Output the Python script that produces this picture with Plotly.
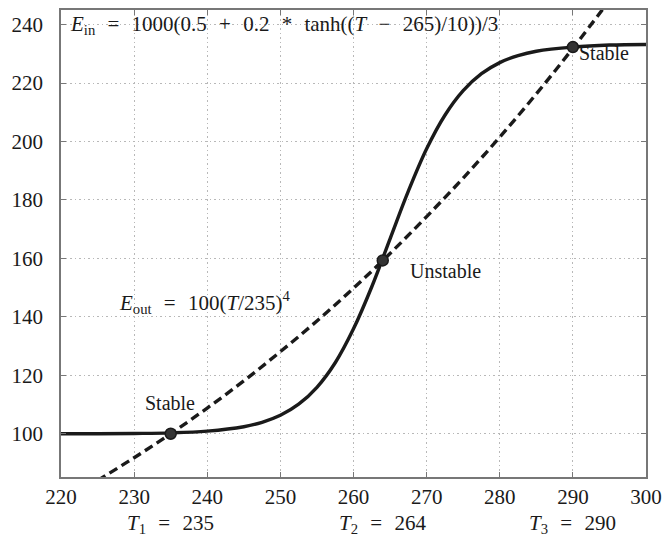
import plotly.graph_objects as go

# Incoming energy curve (solid)
t_in = [220, 225, 230, 235, 240, 245, 247.5, 250, 252.5, 255, 257.5, 260, 262.5, 265,
        267.5, 270, 272.5, 275, 277.5, 280, 282.5, 285, 290, 295, 300]
e_in = [100.0, 100.0, 100.1, 100.3, 100.9, 102.4, 103.9, 106.3, 110.1, 115.9, 124.3, 135.9, 150.3, 166.7,
        183.0, 197.5, 209.0, 217.4, 223.2, 227.0, 229.4, 230.9, 232.3, 233.0, 233.2]

# Outgoing energy curve (dashed)
t_out = [225, 230, 235, 240, 245, 250, 255, 260, 265, 270, 275, 280, 285, 290, 295]
e_out = [84.0, 91.8, 100.0, 108.8, 118.1, 128.1, 138.6, 149.8, 161.7, 174.3, 187.5, 201.5, 216.3, 231.9, 248.3]

# Equilibrium points
eq_t = [235, 264, 290]
eq_e = [100.0, 159.3, 232.3]
eq_names = ["Stable", "Unstable", "Stable"]
SP = "\u2002\u200a"
eq_labels = ["<i>T</i><sub>1</sub>" + SP + "=" + SP + "235",
             "<i>T</i><sub>2</sub>" + SP + "=" + SP + "264",
             "<i>T</i><sub>3</sub>" + SP + "=" + SP + "290"]

FONT = "'Liberation Serif', 'DejaVu Serif', serif"
INK = "#1a1a1a"

fig = go.Figure()
fig.add_trace(go.Scatter(x=t_in, y=e_in, mode="lines", line=dict(color=INK, width=3.4, shape="spline"),
                         showlegend=False))
fig.add_trace(go.Scatter(x=t_out, y=e_out, mode="lines", line=dict(color=INK, width=3.4, dash="9px,5px", shape="spline"),
                         showlegend=False))
fig.add_trace(go.Scatter(x=eq_t, y=eq_e, mode="markers", marker=dict(color="#333", size=11,
                         line=dict(color=INK, width=1.5)), showlegend=False))

axis_common = dict(showline=True, linecolor="#777", linewidth=1.5, mirror="ticks",
                   ticks="inside", ticklen=5, tickcolor="#777",
                   showgrid=True, gridcolor="#b8b8b8", griddash="1.5px,3px", gridwidth=1.2,
                   zeroline=False, ticklabeloverflow="allow",
                   tickfont=dict(family=FONT, size=21, color=INK))

fig.update_xaxes(range=[220, 300], tickvals=list(range(220, 301, 10)), ticklabelstandoff=0, **axis_common)
fig.update_yaxes(range=[85.2, 245], tickvals=list(range(100, 241, 20)), ticklabelstandoff=12, **axis_common)

ann = []
ann.append(dict(x=220.9, y=240, xref="x", yref="y", xanchor="left", yanchor="middle", showarrow=False,
                text="<i>E</i><sub>in</sub>" + SP + "=" + SP + "1000(0.5" + SP + "+" + SP + "0.2" + SP + "*" + SP
                     + "tanh((<i>T</i>" + SP + "−" + SP + "265)/10))/3",
                font=dict(family=FONT, size=21, color=INK)))
ann.append(dict(x=227.6, y=144.8, xref="x", yref="y", xanchor="left", yanchor="middle", showarrow=False,
                text="<i>E</i><sub>out</sub>" + SP + "=" + SP + "100(<i>T</i>/235)<sup>4</sup>",
                font=dict(family=FONT, size=21, color=INK)))
ann.append(dict(x=eq_t[0], y=eq_e[0], xref="x", yref="y", xanchor="right", yanchor="bottom", showarrow=False,
                text=eq_names[0], xshift=26, yshift=18, font=dict(family=FONT, size=20, color=INK)))
ann.append(dict(x=eq_t[1], y=eq_e[1], xref="x", yref="y", xanchor="left", yanchor="middle", showarrow=False,
                text=eq_names[1], xshift=25, yshift=-11, font=dict(family=FONT, size=20, color=INK)))
ann.append(dict(x=eq_t[2], y=eq_e[2], xref="x", yref="y", xanchor="left", yanchor="middle", showarrow=False,
                text=eq_names[2], xshift=4, yshift=-6, font=dict(family=FONT, size=20, color=INK)))
for t, lab in zip(eq_t, eq_labels):
    ann.append(dict(x=t, y=0, xref="x", yref="paper", xanchor="center", yanchor="middle", showarrow=False,
                    text=lab, yshift=-47, font=dict(family=FONT, size=21, color=INK)))

fig.update_layout(width=670, height=537, margin=dict(l=61, r=15, t=8, b=60),
                  font=dict(family=FONT, color=INK),
                  plot_bgcolor="white", paper_bgcolor="white", annotations=ann)

fig.write_html("out.html", config={"displayModeBar": False},
               post_script="document.body.style.margin='0';")
